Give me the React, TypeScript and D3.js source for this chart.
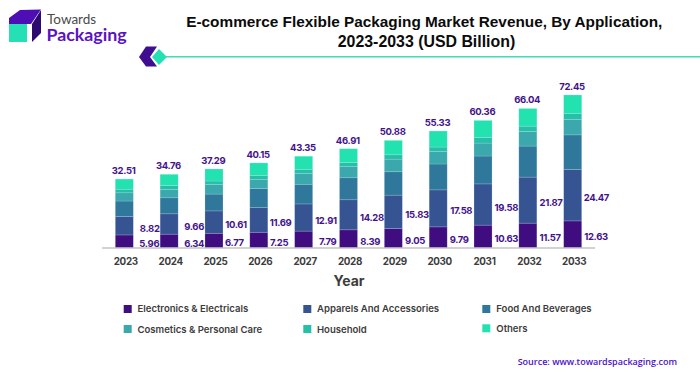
import React from "react";
import * as d3 from "d3";

const years = ["2023","2024","2025","2026","2027","2028","2029","2030","2031","2032","2033"];
const electronics = [5.96,6.34,6.77,7.25,7.79,8.39,9.05,9.79,10.63,11.57,12.63];
const apparels = [8.82,9.66,10.61,11.69,12.91,14.28,15.83,17.58,19.58,21.87,24.47];
const food = [7.3,7.6,8.0,9.06,9.35,10.45,11.1,12.3,13.25,14.75,16.4];
const cosmetics = [3.9,3.95,4.6,4.4,5.05,5.3,6.0,6.0,6.15,6.95,7.4];
const household = [1.7,1.9,1.6,1.75,2.05,2.0,2.05,2.05,2.7,2.5,2.7];
const others = [4.83,5.31,5.71,6.0,6.2,6.49,6.85,7.61,8.05,8.38,8.85];
const totals = ["32.51","34.76","37.29","40.15","43.35","46.91","50.88","55.33","60.36","66.04","72.45"];
const seriesNames = ["Electronics & Electricals","Apparels And Accessories","Food And Beverages","Cosmetics & Personal Care","Household","Others"];
const seriesColors = ["#3f0d80","#365492","#2f789c","#3aa8ac","#25c0a8","#22e3b0"];
const legendCols = [0,1,2,0,1,2];
const apparelLabelGap = [16.4,16,13,12.7,13.3,14.4,14.7,14,14.3,14.2,14.6];
const electronicsLabelGap = [16,16,11.4,11.3,15,12.7,12.7,12,14.3,13.2,14.3];

const FONT = "Inter, 'Liberation Sans', sans-serif";
const PURPLE = "#43128c";
const TITLE_FONT = "'Liberation Sans', Inter, sans-serif";
const LOGO_FONT = "Lato, 'Open Sans', sans-serif";

export default function App() {
  const columns = [electronics, apparels, food, cosmetics, household, others];
  const rows = years.map((y, i) => {
    const r: any = { year: y };
    seriesNames.forEach((n, k) => { r[n] = columns[k][i]; });
    return r;
  });
  const stacked = d3.stack<any>().keys(seriesNames)(rows);
  const x = d3.scaleBand().domain(years).range([115.3, 581.7]).paddingInner(0.5986).paddingOuter(0);
  const y = d3.scaleLinear().domain([0, 72.45]).range([247.5, 95]);
  const legendX = [123.7, 303.3, 482.3];
  const legendTextX = [137.5, 317, 496.3];
  const swatchY = [305, 325];
  const legendBase = [312.3, 333.2];
  const barRight = (i: number) => x(years[i])! + x.bandwidth();

  return (
    <svg width={700} height={376} style={{ position: "absolute", left: 0, top: 0, background: "#fff" }} fontFamily={FONT}>
      {/* logo */}
      <path d="M9 18 L20 10 L41 9.5 L31 24 L9 24Z" fill="#4d0fb5" />
      <path d="M32 24 L41 10 L41 33 L32 42Z" fill="#2d0a70" />
      <rect x={9} y={24} width={18} height={18} fill="#25e0b5" />
      <text x={47} y={23.5} fontSize={13.5} fill="#4a4a4a" fontFamily={LOGO_FONT}>Towards</text>
      <text x={46.5} y={41} fontSize={17.8} fontWeight={700} fill="#5a12c4" fontFamily={LOGO_FONT}>Packaging</text>
      {/* decoration */}
      <path d="M139 57 L146 46.5 L157 46.5 L150 57 L157 66.5 L146 66.5Z" fill="#3f0d90" />
      <path d="M152 57 L159 49 L167 57 L159 65Z" fill="#25e0b5" />
      <line x1={165} x2={700} y1={56.7} y2={56.7} stroke="#3fdcb5" strokeWidth={1.6} />
      {/* title */}
      <text x={424.3} y={27} fontSize={15.35} fontWeight={700} textAnchor="middle" fill="#0b0b0b" fontFamily={TITLE_FONT}>
        E-commerce Flexible Packaging Market Revenue, By Application,
      </text>
      <text x={426.5} y={46.5} fontSize={15.9} fontWeight={700} textAnchor="middle" fill="#0b0b0b" fontFamily={TITLE_FONT}>
        2023-2033 (USD Billion)
      </text>
      {/* bars */}
      {stacked.map((s, k) => (
        <g key={s.key} fill={seriesColors[k]}>
          {s.map((d, i) => (
            <rect key={i} x={x(years[i])} width={x.bandwidth()} y={y(d[1])} height={y(d[0]) - y(d[1])} stroke="#cfe3ee" strokeOpacity={0.35} strokeWidth={0.6} />
          ))}
        </g>
      ))}
      {/* axis */}
      <line x1={102} x2={595} y1={248} y2={248} stroke="#a6a6a6" strokeWidth={1.2} />
      {years.map((yr) => (
        <text key={yr} x={x(yr)! + x.bandwidth() / 2 + 1.5} y={265} fontSize={9.8} letterSpacing={-0.3} fontWeight={700} fill="#3c3c3c" textAnchor="middle">{yr}</text>
      ))}
      <text x={349} y={286} fontSize={14} fontWeight={700} fill="#3c3c3c" textAnchor="middle">Year</text>
      {/* value labels */}
      {years.map((yr, i) => (
        <g key={yr} fontSize={9.5} letterSpacing={-0.35} fontWeight={700} fill={PURPLE} textAnchor="middle">
          <text x={x(yr)! + x.bandwidth() / 2 - 0.7} y={y(+totals[i]) - 5}>{totals[i]}</text>
          <text x={barRight(i) + electronicsLabelGap[i]} y={y(electronics[i] / 2) + 6}>{electronics[i].toFixed(2)}</text>
          <text x={barRight(i) + apparelLabelGap[i]} y={y(electronics[i] + apparels[i] / 2) + 6}>{apparels[i].toFixed(2)}</text>
        </g>
      ))}
      {/* legend */}
      {seriesNames.map((n, k) => {
        const row = k < 3 ? 0 : 1;
        const col = legendCols[k];
        return (
          <g key={n}>
            <rect x={legendX[col]} y={swatchY[row] - (k === 5 ? 0.7 : 0)} width={8} height={8} fill={seriesColors[k]} />
            <text x={legendTextX[col]} y={legendBase[row] - (k === 5 ? 1 : 0)} fontSize={9.55} fontWeight={600} fill="#3c3c3c">{n}</text>
          </g>
        );
      })}
      <text x={677} y={365} fontSize={9} fontWeight={600} fill="#4a12c8" textAnchor="end" fontFamily="'Open Sans', sans-serif">Source: www.towardspackaging.com</text>
    </svg>
  );
}
